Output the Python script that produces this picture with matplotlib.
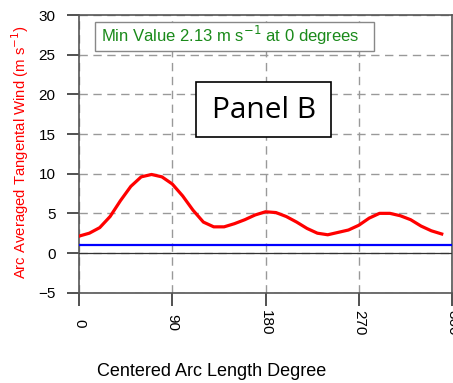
import numpy as np
import matplotlib
matplotlib.use('Agg')
import matplotlib.pyplot as plt
from matplotlib.patches import Rectangle

plt.rcParams['font.family'] = ['Liberation Sans', 'DejaVu Sans']

# arc centre angle (deg) and arc averaged tangential wind (m/s)
degrees = list(range(0, 360, 10))
wind = [2.13, 2.5, 3.2, 4.6, 6.6, 8.4, 9.6, 9.9, 9.6, 8.7,
        7.2, 5.4, 3.9, 3.3, 3.3, 3.7, 4.2, 4.8, 5.2, 5.1,
        4.6, 3.9, 3.1, 2.5, 2.3, 2.6, 2.9, 3.5, 4.4, 5.0,
        5.0, 4.7, 4.2, 3.4, 2.8, 2.4]
ref_level = 1.0
x_ticks = [0, 90, 180, 270, 360]
y_ticks = [-5, 0, 5, 10, 15, 20, 25, 30]

fig = plt.figure(figsize=(4.53, 3.83), dpi=100)
ax = fig.add_axes([0.1744, 0.2358, 0.8236, 0.725])

ax.plot(degrees, wind, color='red', lw=2.3, zorder=4)
ax.axhline(ref_level, color='blue', lw=1.6, zorder=3)
ax.axhline(0, color='#333333', lw=0.9, zorder=3)

ax.set_xlim(0, 360)
ax.set_ylim(-5, 30)
ax.set_xticks(x_ticks)
ax.set_yticks(y_ticks)
ax.grid(True, color='#999999', ls=(0, (6, 4)), lw=1.0)
ax.tick_params(axis='x', labelrotation=-90, labelsize=11, length=9, width=1.2,
               color='#333333', pad=12.7)
ax.tick_params(axis='y', labelsize=11, length=9, width=1.2, color='#333333', pad=8)
for lab in ax.get_xticklabels():
    lab.set_verticalalignment('center')
for s in ax.spines.values():
    s.set_color('#555555')
    s.set_linewidth(1.2)

fig.text(0.044, 0.602, 'Arc Averaged Tangental Wind (m s$^{-1}$)', color='red',
         fontsize=10.7, rotation=90, ha='center', va='center')
fig.text(0.468, 0.008, 'Centered Arc Length Degree', ha='center', va='bottom', fontsize=13)

# green info box
ax.add_patch(Rectangle((0.042, 0.8706), 0.7475, 0.1044, transform=ax.transAxes,
                       fc='white', ec='#888888', lw=1, zorder=5))
ax.text(0.058, 0.928, 'Min Value 2.13 m s$^{-1}$ at 0 degrees', transform=ax.transAxes,
        color='#1a8a1a', fontsize=12, va='center', ha='left', zorder=6)

# panel label box
ax.add_patch(Rectangle((0.3137, 0.561), 0.3629, 0.198, transform=ax.transAxes,
                       fc='white', ec='black', lw=1.2, zorder=5))
ax.text(0.495, 0.655, 'Panel B', transform=ax.transAxes, fontsize=21.5,
        family=['Open Sans', 'DejaVu Sans'], ha='center', va='center', zorder=6)

fig.savefig('out.png', dpi=100)
